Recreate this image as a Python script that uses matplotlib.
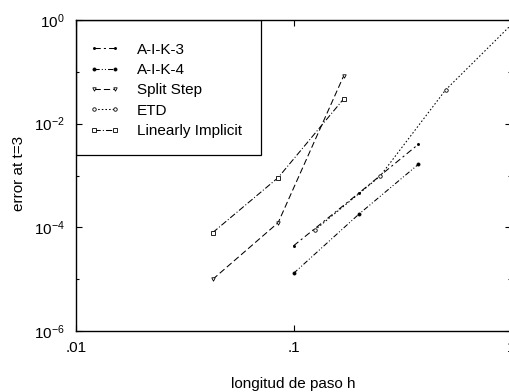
import matplotlib
matplotlib.use("Agg")
import matplotlib.pyplot as plt
from matplotlib.patches import Rectangle
from matplotlib.ticker import FixedLocator, FixedFormatter, NullLocator, NullFormatter

plt.rcParams['font.family'] = ['Liberation Sans', 'DejaVu Sans']
plt.rcParams['mathtext.fontset'] = 'custom'
plt.rcParams['mathtext.rm'] = 'Liberation Sans'
plt.rcParams['mathtext.it'] = 'Liberation Sans'
plt.rcParams['mathtext.default'] = 'regular'

h_aik = [0.1, 0.2, 0.375]
err_aik3 = [4.4e-5, 4.6e-4, 4.0e-3]
err_aik4 = [1.29e-5, 1.8e-4, 1.64e-3]
h_ss = [0.0425, 0.085, 0.17]
err_ss = [9.9e-6, 1.23e-4, 0.083]
h_etd = [0.125, 0.25, 0.5, 1.0]
err_etd = [8.8e-5, 9.7e-4, 0.0446, 0.8]
h_li = [0.0425, 0.085, 0.17]
err_li = [7.9e-5, 9.1e-4, 0.030]

labels = ["A-I-K-3", "A-I-K-4", "Split Step", "ETD", "Linearly Implicit"]
xticks = [0.01, 0.1, 1]
xticklabels = [".01", ".1", "1"]
yticks = [1e-6, 1e-4, 1e-2, 1e0]
yticklabels = [r"$10^{-6}$", r"$10^{-4}$", r"$10^{-2}$", r"$10^{0}$"]

W, H = 510, 392
fig = plt.figure(figsize=(W/100, H/100), dpi=100)
L, R, T, B = 76, 511, 20, 331
ax = fig.add_axes([L/W, 1 - B/H, (R-L)/W, (B-T)/H])

lw = 0.75
ms = 2.5
series = [
    (h_aik, err_aik3, dict(ls=(0, (6, 3, 2, 3)), marker='.', ms=3)),
    (h_aik, err_aik4, dict(ls=(0, (5, 2, 1, 2, 1, 2)), marker='o', ms=2.2, mfc='black')),
    (h_ss, err_ss, dict(ls=(0, (6, 3)), marker='v', ms=ms, mfc='white')),
    (h_etd, err_etd, dict(ls=(0, (1.5, 2)), marker='o', ms=ms, mfc='white')),
    (h_li, err_li, dict(ls=(0, (6, 2, 1, 2)), marker='s', ms=ms, mfc='white')),
]
handles = []
for (x, y, st), lab in zip(series, labels):
    ln, = ax.plot(x, y, color='black', lw=lw, mec='black', mew=0.6, label=lab,
                  clip_on=False, **st)
    handles.append(ln)

ax.set_xscale('log')
ax.set_yscale('log')
ax.set_xlim(0.01, 1)
ax.set_ylim(1e-6, 1)

fs = 11
ax.xaxis.set_major_locator(FixedLocator(xticks))
ax.xaxis.set_major_formatter(FixedFormatter(xticklabels))
ax.xaxis.set_minor_locator(NullLocator())
ax.yaxis.set_major_locator(FixedLocator(yticks))
ax.yaxis.set_major_formatter(FixedFormatter(yticklabels))
ax.yaxis.set_minor_locator(FixedLocator([1e-5, 1e-3, 1e-1]))
ax.yaxis.set_minor_formatter(NullFormatter())
ax.tick_params(which='both', direction='in', top=True, right=True, labelsize=fs,
               width=0.8, color='black')
ax.tick_params(which='major', length=4)
ax.tick_params(axis='y', which='major', pad=8)
ax.tick_params(axis='x', which='major', pad=7)
ax.tick_params(which='minor', length=2)
for s in ax.spines.values():
    s.set_linewidth(1.0)

leg = ax.legend(handles=handles, loc='upper left', numpoints=2,
                bbox_to_anchor=((89 - L) / (R - L), 1 - (42.5 - T) / (B - T)),
                frameon=False, fontsize=fs, handlelength=2.0, handletextpad=1.15,
                labelspacing=0.42, borderaxespad=0, borderpad=0)
# legend box
x0 = 0
x1 = (261 - L) / (R - L)
y1 = 1
y0 = 1 - (155 - T) / (B - T)
ax.add_patch(Rectangle((x0, y0), x1 - x0, y1 - y0, transform=ax.transAxes,
                       fill=False, lw=0.9, ec='black', zorder=5))

fig.text(19/W, 1 - 173/H, "error at t=3", rotation=90, ha='center', va='center', fontsize=fs)
fig.text(293/W, 1 - 384/H, "longitud de paso h", ha='center', va='center', fontsize=fs)

fig.savefig("out.png", dpi=100)
